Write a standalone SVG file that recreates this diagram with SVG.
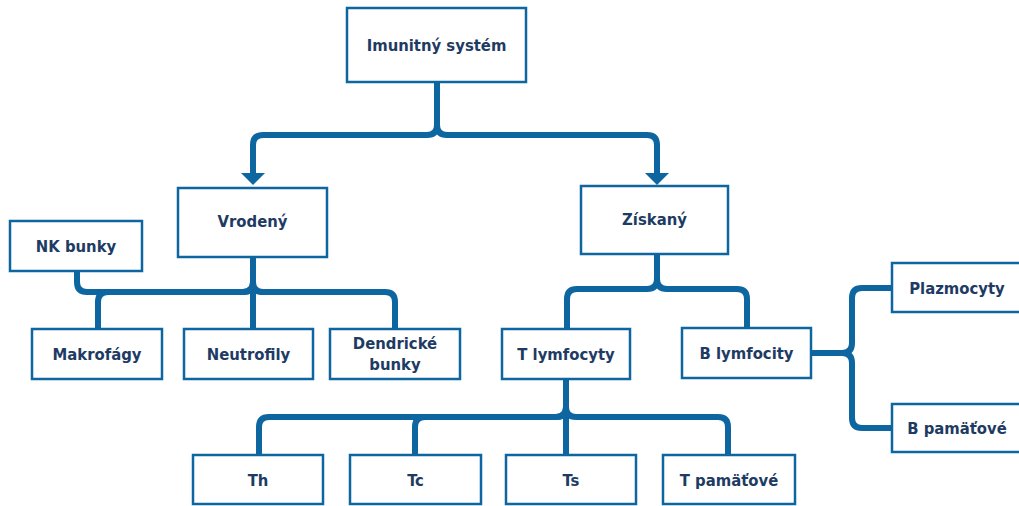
<svg xmlns="http://www.w3.org/2000/svg" width="1019" height="506" viewBox="0 0 1019 506">
  <style>
    .box { fill: #ffffff; stroke: #0d66a0; stroke-width: 2.5; }
    .lbl { font-family: "DejaVu Sans Condensed", "DejaVu Sans", sans-serif; font-weight: bold; font-size: 16.5px; fill: #1e3b63; text-anchor: middle; dominant-baseline: central; }
    .link { fill: none; stroke: #0d66a0; stroke-width: 6; }
    .head { fill: #0d66a0; }
  </style>
  <rect width="1019" height="506" fill="#ffffff"/>

  <g id="connectors">
    <!-- root to the two branches -->
    <path class="link" d="M437,82 V125 Q437,135 427,135 H263 Q253,135 253,145 V174"/>
    <path class="link" d="M437,82 V125 Q437,135 447,135 H647 Q657,135 657,145 V174"/>
    <polygon class="head" points="241,173 265,173 253,185"/>
    <polygon class="head" points="645,173 669,173 657,185"/>

    <!-- Vrodený -->
    <path class="link" d="M253,257 V282 Q253,292 243,292 H87 Q77,292 77,282 V271"/>
    <path class="link" d="M253,257 V282 Q253,292 243,292 H108 Q98,292 98,302 V329"/>
    <path class="link" d="M253,257 V329"/>
    <path class="link" d="M253,257 V282 Q253,292 263,292 H385 Q395,292 395,302 V329"/>

    <!-- Získaný -->
    <path class="link" d="M657,254 V279 Q657,289 647,289 H577 Q567,289 567,299 V329"/>
    <path class="link" d="M657,254 V279 Q657,289 667,289 H737 Q747,289 747,299 V328"/>

    <!-- B lymfocity -->
    <path class="link" d="M811,353 H842 Q852,353 852,343 V298 Q852,288 862,288 H892"/>
    <path class="link" d="M811,353 H842 Q852,353 852,363 V418 Q852,428 862,428 H892"/>

    <!-- T lymfocyty -->
    <path class="link" d="M566,379 V407 Q566,417 556,417 H269 Q259,417 259,427 V455"/>
    <path class="link" d="M566,379 V407 Q566,417 556,417 H425 Q415,417 415,427 V455"/>
    <path class="link" d="M566,379 V455"/>
    <path class="link" d="M566,379 V407 Q566,417 576,417 H718 Q728,417 728,427 V455"/>
  </g>

  <g id="imunitny-system">
    <rect class="box" x="347" y="8" width="179" height="74"/>
    <text class="lbl" x="436.5" y="45">Imunitný systém</text>
  </g>
  <g id="vrodeny">
    <rect class="box" x="178" y="188" width="149" height="69"/>
    <text class="lbl" x="252.5" y="221">Vrodený</text>
  </g>
  <g id="ziskany">
    <rect class="box" x="581" y="186" width="147" height="68"/>
    <text class="lbl" x="654.5" y="219">Získaný</text>
  </g>
  <g id="nk-bunky">
    <rect class="box" x="10" y="221" width="132" height="50"/>
    <text class="lbl" x="76" y="246">NK bunky</text>
  </g>
  <g id="makrofagy">
    <rect class="box" x="32" y="329" width="130" height="50"/>
    <text class="lbl" x="97" y="354">Makrofágy</text>
  </g>
  <g id="neutrofily">
    <rect class="box" x="184" y="329" width="129" height="50"/>
    <text class="lbl" x="248.5" y="354">Neutrofily</text>
  </g>
  <g id="dendricke-bunky">
    <rect class="box" x="330" y="329" width="130" height="50"/>
    <text class="lbl" x="395" y="343">Dendrické</text>
    <text class="lbl" x="395" y="364">bunky</text>
  </g>
  <g id="t-lymfocyty">
    <rect class="box" x="502" y="329" width="128" height="50"/>
    <text class="lbl" x="566" y="354">T lymfocyty</text>
  </g>
  <g id="b-lymfocity">
    <rect class="box" x="682" y="328" width="129" height="50"/>
    <text class="lbl" x="746.5" y="353">B lymfocity</text>
  </g>
  <g id="plazmocyty">
    <rect class="box" x="892" y="263" width="140" height="49"/>
    <text class="lbl" x="957" y="288">Plazmocyty</text>
  </g>
  <g id="b-pamatove">
    <rect class="box" x="892" y="404" width="140" height="48"/>
    <text class="lbl" x="957" y="428">B pamäťové</text>
  </g>
  <g id="th">
    <rect class="box" x="193" y="455" width="130" height="49"/>
    <text class="lbl" x="258" y="480">Th</text>
  </g>
  <g id="tc">
    <rect class="box" x="350" y="455" width="131" height="49"/>
    <text class="lbl" x="415.5" y="480">Tc</text>
  </g>
  <g id="ts">
    <rect class="box" x="506" y="455" width="130" height="49"/>
    <text class="lbl" x="571" y="480">Ts</text>
  </g>
  <g id="t-pamatove">
    <rect class="box" x="663" y="455" width="132" height="49"/>
    <text class="lbl" x="729" y="480">T pamäťové</text>
  </g>
</svg>
